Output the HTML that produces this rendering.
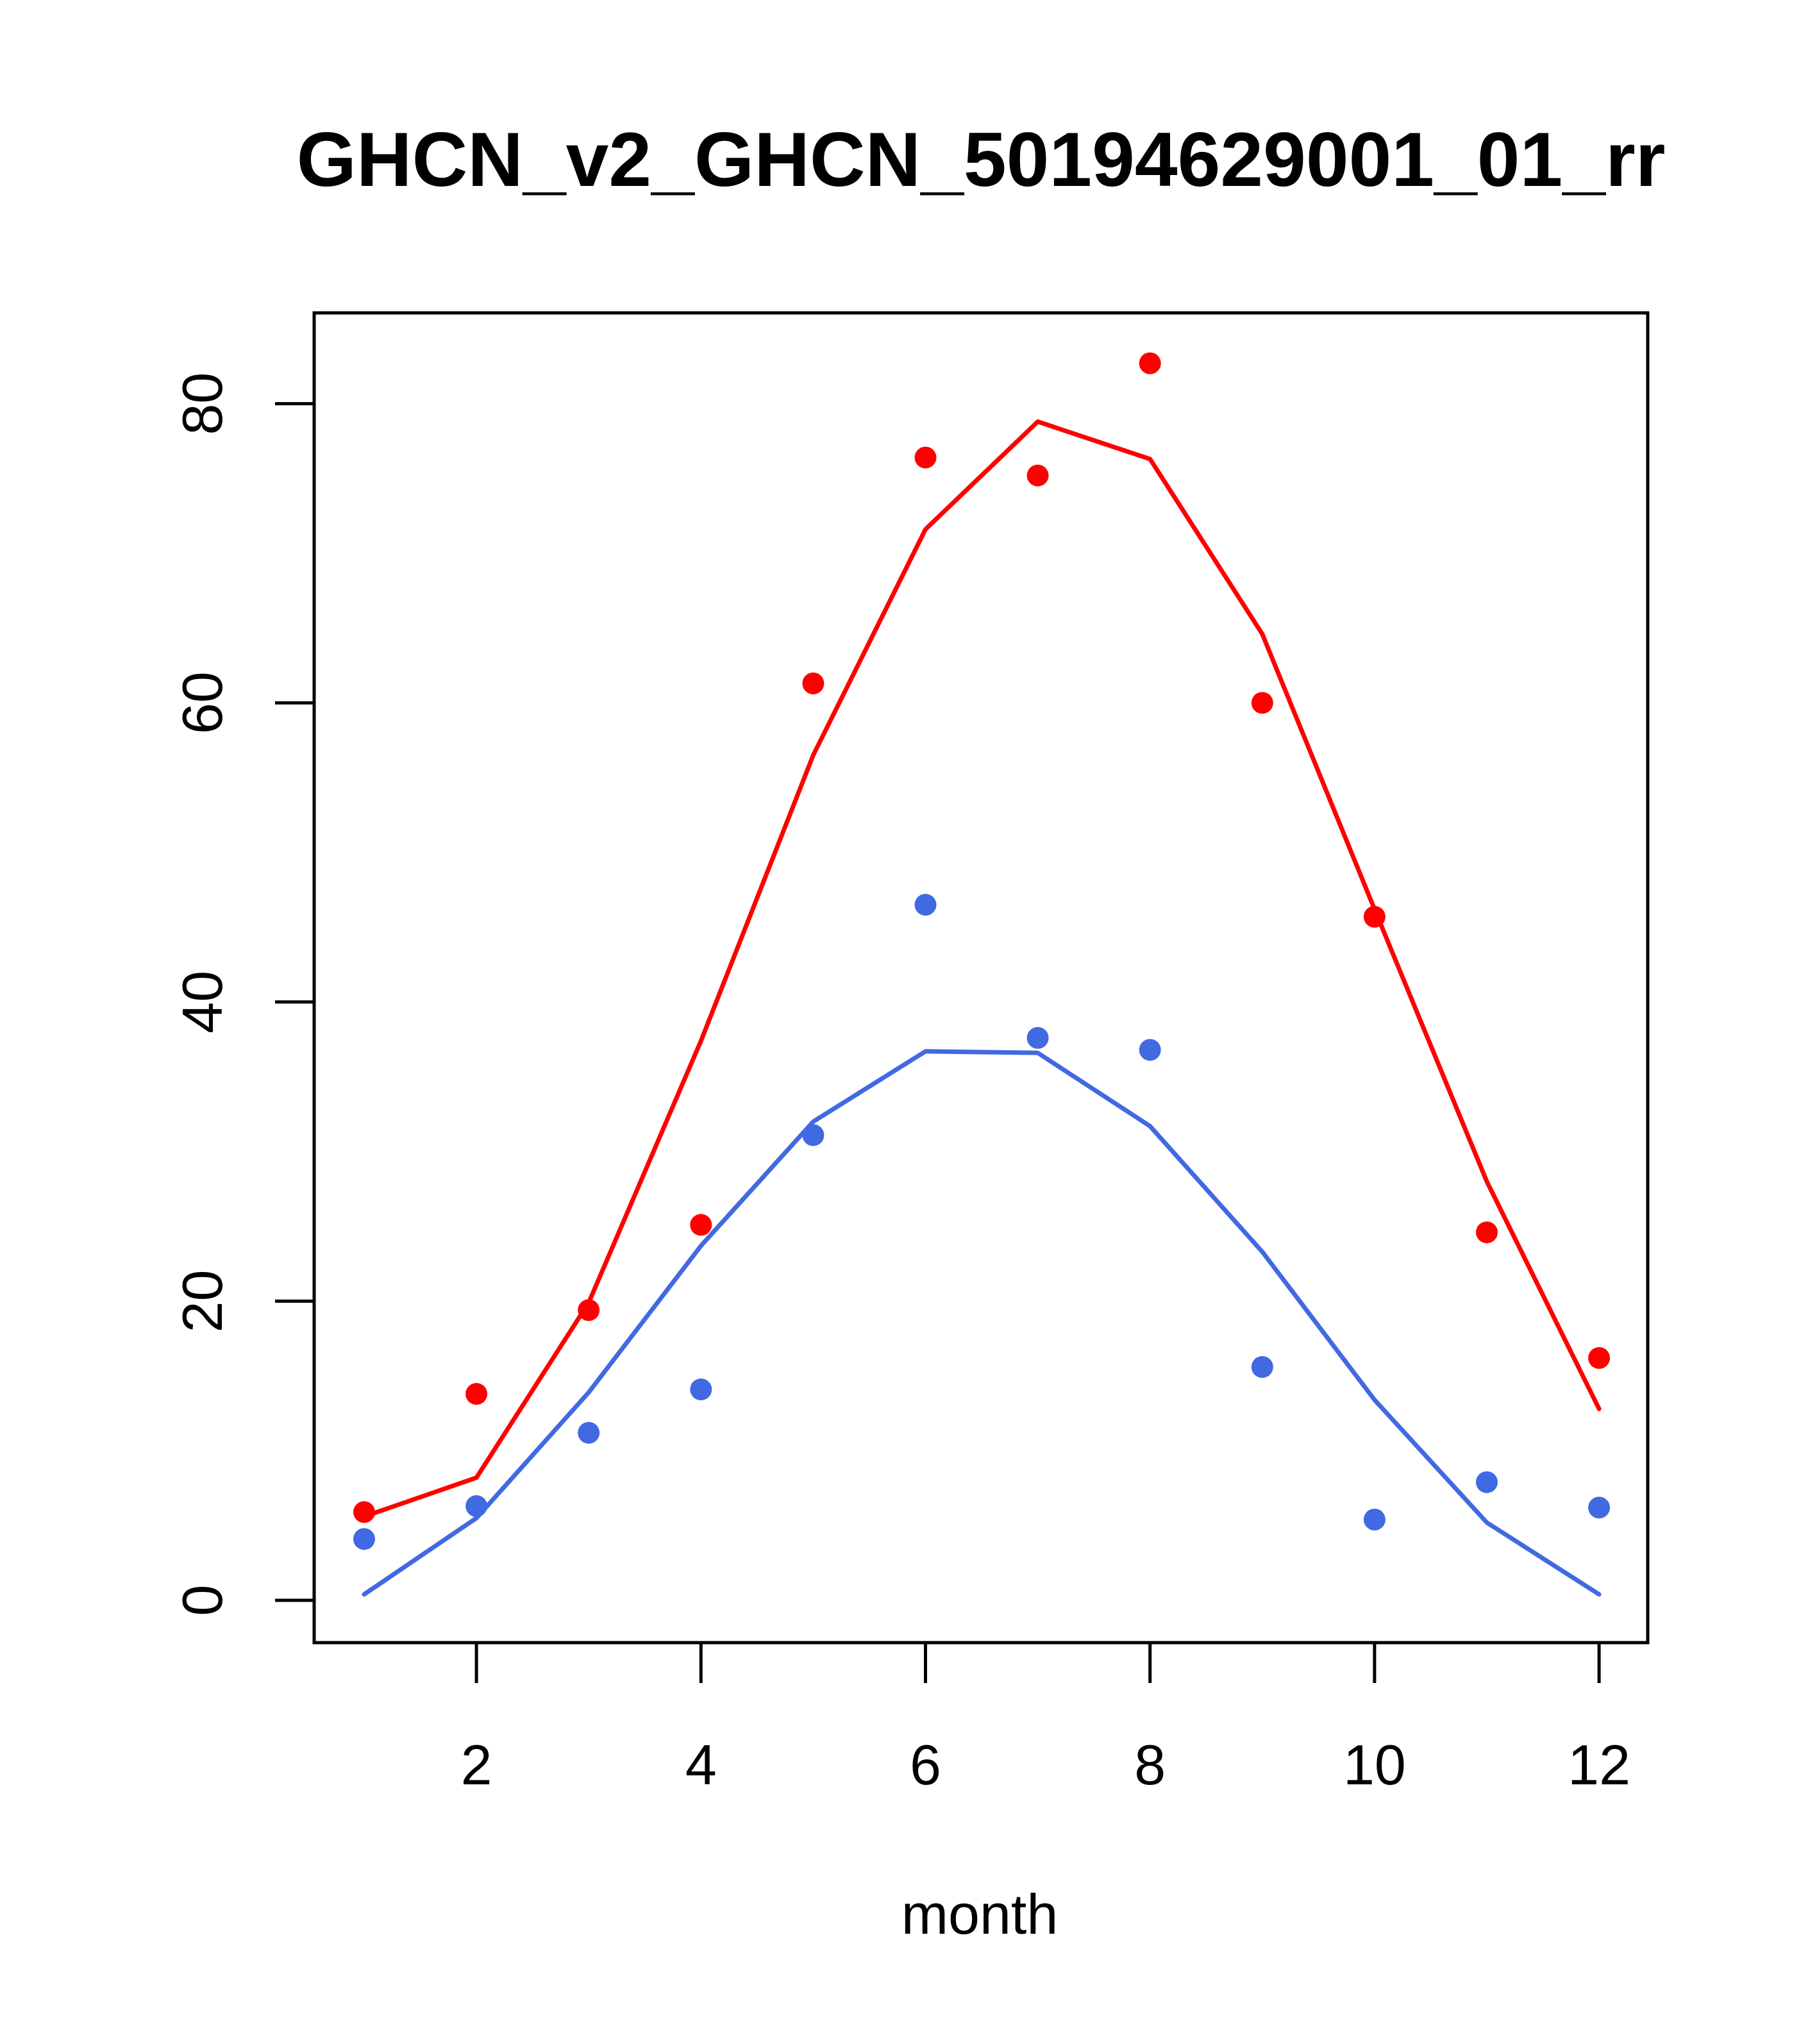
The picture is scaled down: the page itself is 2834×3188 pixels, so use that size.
<!DOCTYPE html>
<html><head><meta charset="utf-8"><style>body{margin:0;background:#fff}svg{display:block}</style></head>
<body>
<svg id="chart" width="2834" height="3188" xmlns="http://www.w3.org/2000/svg" font-family="Liberation Sans, Arial, sans-serif">
<rect width="2834" height="3188" fill="#fff"/>
<text x="1530" y="290" text-anchor="middle" font-size="120" font-weight="bold">GHCN_v2_GHCN_50194629001_01_rr</text>
<rect x="490" y="488" width="2080" height="2074" fill="none" stroke="#000" stroke-width="5"/>
<text x="1528" y="3016" text-anchor="middle" font-size="88">month</text>
<g id="g"></g>
</svg>
<script>
const months=[1,2,3,4,5,6,7,8,9,10,11,12];
const redPoints=[5.9,13.8,19.4,25.1,61.3,76.4,75.2,82.7,60.0,45.7,24.6,16.2];
const redLine=[5.6,8.2,19.9,37.4,56.5,71.6,78.8,76.3,64.6,46.2,28.0,12.8];
const bluePoints=[4.1,6.3,11.2,14.1,31.1,46.5,37.6,36.8,15.6,5.4,7.9,6.2];
const blueLine=[0.4,5.5,13.9,23.7,32.0,36.7,36.6,31.7,23.3,13.4,5.2,0.4];
const xTicks=[2,4,6,8,10,12];
const yTicks=[0,20,40,60,80];
const X=v=>568+(v-1)*175.1;
const Y=v=>2496-v*23.33;
const NS="http://www.w3.org/2000/svg";
const g=document.getElementById('g');
function mk(t,a){const e=document.createElementNS(NS,t);for(const k in a)e.setAttribute(k,a[k]);g.appendChild(e);return e;}
xTicks.forEach(v=>{
 const l=mk('line',{x1:X(v),x2:X(v),y1:2562,y2:2625,stroke:'#000','stroke-width':5});
 
 
 const t=mk('text',{x:X(v),y:2783,'text-anchor':'middle','font-size':88});
 t.textContent=v;
 
 
});
yTicks.forEach(v=>{
 const l=mk('line',{x1:429,x2:490,y1:Y(v),y2:Y(v),stroke:'#000','stroke-width':5});
 
 
 const t=mk('text',{x:0,y:0,'text-anchor':'middle','font-size':88,transform:`translate(346,${Y(v)}) rotate(-90)`});
 t.textContent=v;
 
 
});
function line(vals,col,name){
 const p=mk('polyline',{points:months.map((m,i)=>X(m)+','+Y(vals[i])).join(' '),fill:'none',stroke:col,'stroke-width':7,'stroke-linecap':'round','stroke-linejoin':'round'});
 
 
}
function pts(vals,col,name){
 months.forEach((m,i)=>{
  const c=mk('circle',{cx:X(m),cy:Y(vals[i]),r:17,fill:col});
  
  
 });
}
line(redLine,'#ff0000','red-line');
line(blueLine,'#4169e1','blue-line');
pts(redPoints,'#ff0000','red-point');
pts(bluePoints,'#4169e1','blue-point');
</script>
</body></html>
